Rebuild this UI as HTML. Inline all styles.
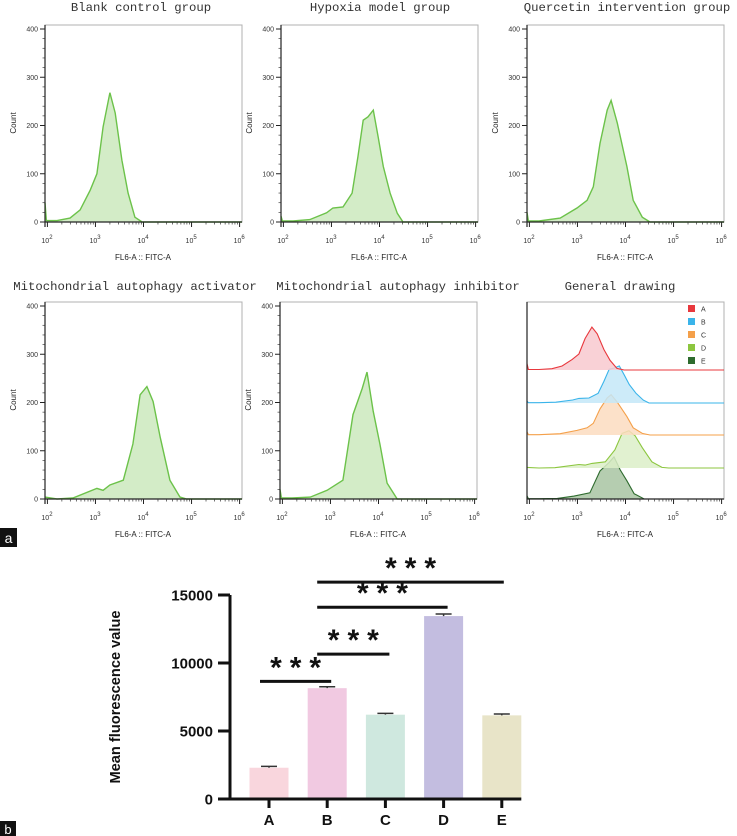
<!DOCTYPE html>
<html><head><meta charset="utf-8">
<style>
html,body{margin:0;padding:0;background:#fff;}
svg{display:block;}
.ttl{font-family:"Liberation Mono",monospace;font-size:12.3px;fill:#333;}
.tk{font-family:"Liberation Sans",sans-serif;font-size:7px;fill:#333;}
.ax{font-family:"Liberation Sans",sans-serif;font-size:8px;fill:#222;}
.bt{font-family:"Liberation Sans",sans-serif;font-weight:bold;font-size:15px;fill:#111;}
</style></head>
<body>
<svg id="fig" width="737" height="836" viewBox="0 0 737 836" xmlns="http://www.w3.org/2000/svg">
<g id="flow"></g>
<g id="bars"></g>
<rect x="0" y="528" width="17" height="19" fill="#111"/>
<text x="8.5" y="543" text-anchor="middle" font-family="Liberation Sans,sans-serif" font-size="14" fill="#fff">a</text>
<rect x="0" y="821" width="16" height="15" fill="#111"/>
<text x="8" y="834" text-anchor="middle" font-family="Liberation Sans,sans-serif" font-size="13" fill="#fff">b</text>
</svg>
<script>
// ---------- flow cytometry data ----------
const groupTitles = ["Blank control group","Hypoxia model group","Quercetin intervention group","Mitochondrial autophagy activator","Mitochondrial autophagy inhibitor"];
const logA = [1.95,1.98,2.2,2.47,2.68,2.89,3.03,3.16,3.3,3.41,3.55,3.68,3.82,3.97,6.05];
const cntA = [40,3,3,8,25,66,100,197,268,226,128,60,10,0,0];
const logB = [1.95,1.98,2.2,2.55,2.9,3.03,3.24,3.43,3.55,3.66,3.76,3.87,3.97,4.08,4.22,4.37,4.49,6.05];
const cntB = [12,2,2,5,19,29,31,60,135,211,218,232,177,115,60,18,0,0];
const logC = [1.95,1.98,2.2,2.64,2.99,3.2,3.33,3.47,3.62,3.7,3.83,4.03,4.16,4.35,4.51,6.05];
const cntC = [20,2,2,8,29,45,73,163,232,252,205,115,45,10,0,0];
const logD = [1.95,2.2,2.53,3.03,3.16,3.3,3.58,3.78,3.93,4.07,4.2,4.35,4.55,4.76,4.9,6.05];
const cntD = [4,0,2,22,18,29,39,114,216,233,202,127,39,4,0,0];
const logE = [1.95,1.98,2.2,2.58,2.93,3.26,3.47,3.66,3.76,3.89,4.03,4.18,4.39,6.05];
const cntE = [20,2,2,4,18,39,175,229,263,182,114,33,0,0];
const yTicks = [0,100,200,300,400];
const xDecades = [2,3,4,5,6];
const legendLabels = ["A","B","C","D","E"];
const lineCols = ["#e8383d","#3ab4ea","#f4a04a","#8cc63f","#2e6b2e"];
const fillCols = ["#f8c9cf","#c4e7f8","#fbdcc0","#dcefc8","#a8c4a2"];

// ---------- bar chart data ----------
const barCats = ["A","B","C","D","E"];
const barVals = [2300,8150,6200,13450,6150];
const barErr = [100,100,100,150,100];
const barTicks = [0,5000,10000,15000];
const sigPairs = [[0,1],[1,2],[1,3],[1,4]];
const sigLevels = [8650,10650,14100,15950];
const barColors = ["#f9d6dd","#f1c9e1","#cfe8df","#c3bde0","#e8e4c8"];

const NS="http://www.w3.org/2000/svg";
function mk(tag,attrs,parent){const e=document.createElementNS(NS,tag);for(const k in attrs)e.setAttribute(k,attrs[k]);parent.appendChild(e);return e;}

const flow=document.getElementById('flow');
const panels=[
 {x:45,y:25,title:"Blank control group",tx:141,ty:11},
 {x:281,y:25,title:"Hypoxia model group",tx:380,ty:11},
 {x:527,y:25,title:"Quercetin intervention group",tx:627,ty:11},
 {x:45,y:302,title:"Mitochondrial autophagy activator",tx:135,ty:290},
 {x:280,y:302,title:"Mitochondrial autophagy inhibitor",tx:398,ty:290},
 {x:527,y:302,title:"General drawing",tx:620,ty:290}
];
const W=197,H=197,LMIN=1.95,LMAX=6.05;
const logs=[logA,logB,logC,logD,logE], cnts=[cntA,cntB,cntC,cntD,cntE];

function pathFor(lg,ct,xs,ys,base){
  let d="";
  for(let i=0;i<lg.length;i++){d+=(i?"L":"M")+xs(lg[i]).toFixed(1)+","+ys(ct[i]).toFixed(1);}
  const line=d;
  const area=d+"L"+xs(lg[lg.length-1]).toFixed(1)+","+base+"L"+xs(lg[0]).toFixed(1)+","+base+"Z";
  return {line,area};
}

panels.forEach((p,pi)=>{
  const g=mk('g',{},flow);
  
  
  const t=mk('text',{x:p.tx,y:p.ty,'text-anchor':'middle',class:'ttl'},g);
  t.textContent=p.title;
  
  
  const xs=l=>p.x+(l-LMIN)/(LMAX-LMIN)*W;
  const bottom=p.y+H;
  const ys=c=>bottom-c*(193/400);
  const box=mk('rect',{x:p.x,y:p.y,width:W,height:H,fill:'none',stroke:'#b0b0b0','stroke-width':1},g);
  
  
  if(pi<5){
    const a=pathFor(logs[pi],cnts[pi],xs,ys,bottom);
    const ar=mk('path',{d:a.area,fill:'#d3ecc7'},g);
    
    
    const ln=mk('path',{d:a.line,fill:'none',stroke:'#6cc24a','stroke-width':1.4},g);
    
    
    yTicks.forEach(v=>{
      mk('line',{x1:p.x-5,x2:p.x,y1:ys(v),y2:ys(v),stroke:'#222','stroke-width':1},g);
      const tl=mk('text',{x:p.x-7,y:ys(v)+2.5,'text-anchor':'end',class:'tk'},g);
      tl.textContent=v;
      
      
    });
    for(let v=20;v<400;v+=20){ if(v%100) mk('line',{x1:p.x-2.5,x2:p.x,y1:ys(v),y2:ys(v),stroke:'#444','stroke-width':0.7},g); }
    const cl=mk('text',{x:0,y:0,'text-anchor':'middle',class:'ax',transform:`translate(${p.x-29},${p.y+98}) rotate(-90)`},g);
    cl.textContent='Count';
    
    
  } else {
    const bases=[370,403,435,468,499];
    const sc=0.16;
    for(let k=4;k>=0;k--){
      const b=bases[k];
      const yk=c=>b-c*sc;
      const a=pathFor(logs[k],cnts[k],xs,yk,b);
      const ar=mk('path',{d:a.area,fill:fillCols[k],opacity:0.85},g);
      
      
      const ln=mk('path',{d:a.line,fill:'none',stroke:lineCols[k],'stroke-width':1.1},g);
      
      
    }
    legendLabels.forEach((lb,k)=>{
      const lg=mk('g',{},g);
      
      
      mk('rect',{x:688,y:305+k*13,width:7,height:7,fill:lineCols[k]},lg);
      const lt=mk('text',{x:701,y:311.5+k*13,class:'tk','font-size':'8'},lg);
      lt.textContent=lb;
    });
  }
  mk('line',{x1:p.x,x2:p.x,y1:p.y,y2:bottom+5,stroke:'#222','stroke-width':1.2},g);
  mk('line',{x1:p.x,x2:p.x+W,y1:bottom,y2:bottom,stroke:'#222','stroke-width':1.2},g);
  xDecades.forEach(d=>{
    mk('line',{x1:xs(d),x2:xs(d),y1:bottom,y2:bottom+5,stroke:'#222','stroke-width':1},g);
    const tl=mk('text',{x:xs(d)-6,y:bottom+21,class:'tk'},g);
    
    
    tl.textContent='10';
    const sup=mk('tspan',{dy:-4,'font-size':'6'},tl);sup.textContent=d;
  });
  for(let d=1;d<6;d++){for(let m=2;m<10;m++){const l=d+Math.log10(m);if(l>LMIN&&l<LMAX)mk('line',{x1:xs(l),x2:xs(l),y1:bottom,y2:bottom+2.5,stroke:'#333','stroke-width':0.7},g);}}
  const xl=mk('text',{x:p.x+98,y:bottom+38,'text-anchor':'middle',class:'ax'},g);
  xl.textContent='FL6-A :: FITC-A';
  
  
});

// ---------- bar chart ----------
const bars=document.getElementById('bars');
const X0=230,Y0=799,YTOP=595;
const yb=v=>Y0-v/15000*(Y0-YTOP);
const xb=i=>269+i*58.2;
const BW=39;
barCats.forEach((c,i)=>{
  const r=mk('rect',{x:xb(i)-BW/2,y:yb(barVals[i]),width:BW,height:Y0-yb(barVals[i]),fill:barColors[i]},bars);
  
  
  const e=mk('path',{d:`M${xb(i)},${yb(barVals[i])}V${yb(barVals[i]+barErr[i])}M${xb(i)-8},${yb(barVals[i]+barErr[i])}H${xb(i)+8}`,stroke:'#333','stroke-width':1.5,fill:'none'},bars);
  
  
  mk('line',{x1:xb(i),x2:xb(i),y1:Y0,y2:Y0+9,stroke:'#111','stroke-width':3},bars);
  const t=mk('text',{x:xb(i),y:825,'text-anchor':'middle',class:'bt'},bars);
  t.textContent=c;
  
  
});
const yax=mk('path',{d:`M${X0},${YTOP}V${Y0}H${xb(4)+BW/2}`,stroke:'#111','stroke-width':3,fill:'none'},bars);


barTicks.forEach(v=>{
  mk('line',{x1:X0-12,x2:X0,y1:yb(v),y2:yb(v),stroke:'#111','stroke-width':3},bars);
  const t=mk('text',{x:213,y:yb(v)+5.5,'text-anchor':'end',class:'bt'},bars);
  t.textContent=v;
  
  
});
const yl=mk('text',{x:0,y:0,'text-anchor':'middle',class:'bt','font-size':'19',textLength:'173',lengthAdjust:'spacingAndGlyphs',transform:'translate(120,697) rotate(-90)'},bars);
yl.textContent='Mean fluorescence value';


sigPairs.forEach((pr,k)=>{
  const y=yb(sigLevels[k]);
  const x1=pr[0]===0?xb(0)-9:xb(1)-10, x2=xb(pr[1])+(pr[1]===4?2:4);
  const l=mk('line',{x1:x1,x2:x2,y1:y,y2:y,stroke:'#111','stroke-width':3},bars);
  
  
  const s=mk('text',{x:(x1+x2)/2+4,y:y-4,'text-anchor':'middle','font-family':'Liberation Sans,sans-serif','font-weight':'bold','font-size':'30','letter-spacing':'8',fill:'#111'},bars);
  s.textContent='***';
  
  
});
</script>
</body></html>
